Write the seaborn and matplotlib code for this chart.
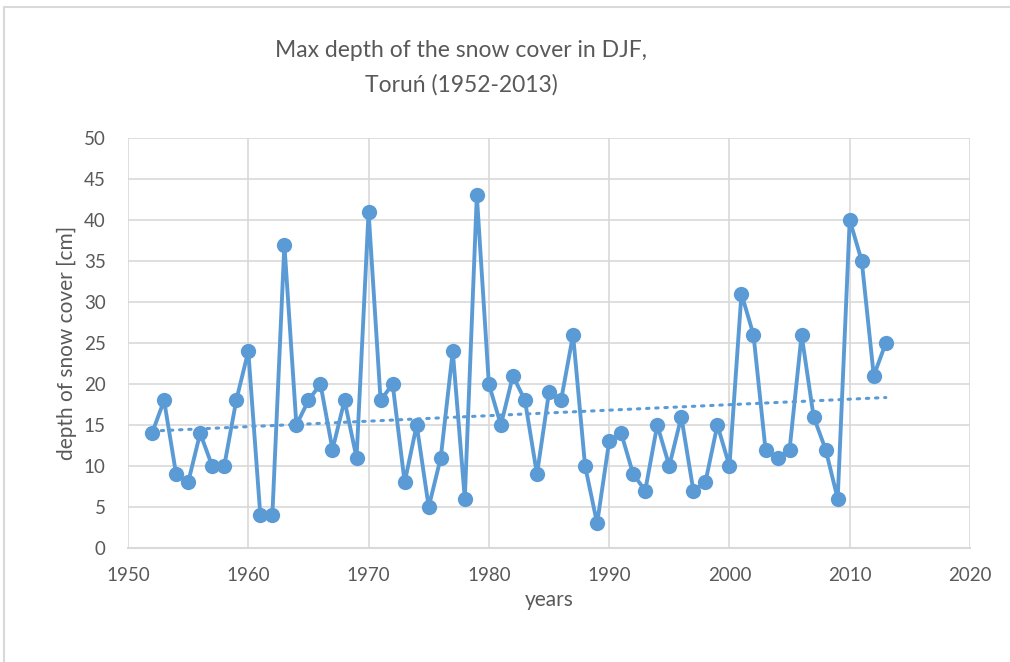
import numpy as np
import pandas as pd
import seaborn as sns
import matplotlib
matplotlib.use("Agg")
import matplotlib.pyplot as plt
from matplotlib.lines import Line2D

years = list(range(1952, 2014))
depth = [14, 18, 9, 8, 14, 10, 10, 18, 24, 4,
         4, 37, 15, 18, 20, 12, 18, 11, 41, 18,
         20, 8, 15, 5, 11, 24, 6, 43, 20, 15,
         21, 18, 9, 19, 18, 26, 10, 3, 13, 14,
         9, 7, 15, 10, 16, 7, 8, 15, 10, 31,
         26, 12, 11, 12, 26, 16, 12, 6, 40, 35,
         21, 25]
x_ticks = [1950, 1960, 1970, 1980, 1990, 2000, 2010, 2020]
y_ticks = [0, 5, 10, 15, 20, 25, 30, 35, 40, 45, 50]
title = "Max depth of the snow cover in DJF,\nToruń (1952-2013)"
xlabel = "years"
ylabel = "depth of snow cover [cm]"

df = pd.DataFrame({"year": years, "depth": depth})

sns.set_theme(style="white")
plt.rcParams["font.family"] = ["Lato", "DejaVu Sans"]

blue = "#5B9BD5"
gray_text = "#595959"
grid = "#D9D9D9"

fig = plt.figure(figsize=(10.1, 6.62), dpi=100)
ax = fig.add_axes([128/1010, 1-548/662, (970-128)/1010, (548-138)/662])

# trend line (linear least squares, like Excel's trendline)
coef = np.polyfit(df["year"], df["depth"], 1)
df["trend"] = np.polyval(coef, df["year"])
sns.lineplot(data=df, x="year", y="trend", ax=ax, color=blue, lw=2.2,
             linestyle=(0, (0.8, 2.2)))
ax.lines[-1].set_dash_capstyle("round")

sns.lineplot(data=df, x="year", y="depth", ax=ax, color=blue, lw=2.8,
             marker="o", markersize=11, markeredgewidth=0,
             markerfacecolor=blue)

ax.set_xlim(1950, 2020)
ax.set_ylim(0, 50)
ax.set_xticks(x_ticks)
ax.set_yticks(y_ticks)
ax.grid(True, color=grid, lw=1.2)
ax.set_axisbelow(True)
for s in ["top", "right", "left"]:
    ax.spines[s].set_visible(False)
ax.spines["bottom"].set_color(grid)
ax.spines["bottom"].set_linewidth(1.5)
ax.tick_params(axis="both", length=0, labelsize=13.5, colors=gray_text)
ax.tick_params(axis="x", pad=14)
ax.tick_params(axis="y", pad=16)
ax.set_xlabel(xlabel, fontsize=15, color=gray_text, labelpad=4)
ax.set_ylabel(ylabel, fontsize=15, color=gray_text, labelpad=5)

fig.text(461/1010, 1-68/662, title, ha="center", va="center",
         fontsize=16.5, color=gray_text, linespacing=1.75)

# chart frame lines
fig.add_artist(Line2D([4/1010, 4/1010], [0, 1-7/662], transform=fig.transFigure,
                      color="#D9D9D9", lw=1.5))
fig.add_artist(Line2D([4/1010, 1], [1-7/662, 1-7/662], transform=fig.transFigure,
                      color="#D9D9D9", lw=1.5))

fig.savefig("out.png", dpi=100, facecolor="white")
